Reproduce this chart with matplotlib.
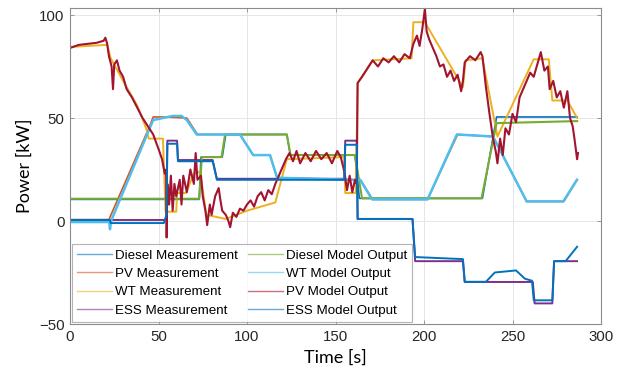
import matplotlib
matplotlib.use("Agg")
import matplotlib.pyplot as plt

# --- data (time [s], power [kW]) ---
t_diesel_meas = [0, 73, 74, 86, 88, 122.5, 124.5, 161, 163.5, 233, 241, 286.5]
p_diesel_meas = [10.5, 10.5, 31, 31, 42, 42, 32, 32, 11, 11, 50.5, 50.5]

t_pv_meas = [0, 22, 45, 47, 53, 66, 72, 96, 103.5, 113, 117, 162, 164, 171,
             202, 219, 239, 258, 279, 286.5]
p_pv_meas = [0.7, 0.7, 46, 50.5, 50.5, 50, 42, 42, 32, 32, 21, 20, 20, 10.5,
             10.5, 42, 41, 9.5, 9.5, 20]

t_wt_meas = [0, 21, 23, 30, 38, 43, 44.5, 52.5, 54, 60, 60.5, 65.5, 70, 73.5,
             77, 88, 100, 116, 122.5, 155, 155.5, 161.5, 162.5, 171, 193, 194,
             200.5, 222, 223.5, 233, 241.5, 262, 270.5, 272.5, 281, 286.5]
p_wt_meas = [84.5, 85.5, 79, 68, 56, 45, 40, 40, 4.5, 4.5, 13.6, 13.6, 23, 24,
             3, 1, 5, 9, 30, 31, 13.6, 13.6, 67, 78, 79, 96.5,
             96.5, 65, 78, 79, 41, 78.5, 78.5, 58.5, 58.5, 50]

t_ess_meas = [0, 54.5, 55, 60.5, 61, 80.6, 83, 155, 155.5, 162, 162.5, 193.5,
              195, 222, 223, 261.5, 262.5, 272.5, 273.5, 286.5]
p_ess_meas = [0.5, 0.5, 39, 39, 29.6, 29.6, 20.5, 20.5, 39, 39, 1, 1,
              -19.5, -19.5, -29.6, -29.6, -40, -40, -19.5, -19.5]

t_diesel_model = [0, 73, 74.5, 85.6, 87.6, 122.5, 124.6, 161, 165, 232.5, 241, 286.5]
p_diesel_model = [10.8, 10.8, 31, 31, 42, 42, 32, 32, 11, 11, 47.5, 48.5]

t_wt_model = [0, 22.2, 22.6, 23.2, 45, 47, 58, 63, 66, 71.6, 96, 103.5, 113, 117,
              160, 164, 170.6, 202, 218.6, 239, 258, 278.7, 286.4]
p_wt_model = [-0.5, -0.5, -4, 0, 45, 49, 51, 51, 49, 42, 42, 32, 32, 21,
              20, 20, 10.5, 10.5, 42, 41, 9.5, 9.5, 20]

t_pv_model = [0, 5, 10, 15, 19, 20, 21, 22, 23.5, 24.3, 25, 26.5, 28, 30, 32, 35,
              38, 41, 44, 47, 50, 52, 53.5, 54.3, 54.6, 55, 56, 57, 58, 59, 60,
              62, 63, 64, 66, 68, 70, 71, 72, 74, 75, 76.5, 77.5, 79, 80, 82,
              84, 85, 86, 88, 89.5, 90.5, 92, 94, 96, 98, 100, 102, 104, 106,
              108, 110, 112, 114, 116, 118, 120, 122, 124, 126, 128, 130, 133,
              136, 139, 142, 145, 148, 151, 153, 155, 156.5, 158, 159.5, 161,
              162, 162.5, 165, 168, 171, 174, 177, 180, 183, 186, 189, 192,
              194, 196, 197.5, 199, 200.5, 201.5, 203, 205, 207, 209, 211,
              213, 215, 217, 219, 221, 222, 223, 226, 229, 232, 233, 235, 237,
              239, 240.5, 241.5, 243, 244.5, 246, 248, 250, 252, 254, 256,
              258, 260, 262, 264, 266, 268, 270, 271, 273, 275, 277, 279, 281,
              282.5, 284, 285, 286.5, 287]
p_pv_model = [84, 85.5, 86, 86.5, 87.5, 89, 86, 80, 75, 64, 76, 78, 73, 70, 64, 60,
              55, 50, 46, 42, 35, 30, 23, 25, -8, 18, 8, 22, 5, 18, 12,
              20, 8, 22, 14, 25, 18, 33, 20, 22, 12, 5, -2, 8, 3, 12,
              16, 10, 5, 3, 0, -3, 4, 2, 6, 5, 8, 10, 7, 12,
              14, 10, 15, 13, 18, 22, 26, 30, 33, 29, 34, 28, 33,
              29, 34, 30, 33, 28, 34, 31, 24, 15, 22, 14, 20,
              18, 67, 70, 74, 78, 75, 79, 77, 80, 77, 81, 79,
              86, 90, 85, 93, 103, 92, 88, 84, 80, 75, 76,
              70, 73, 68, 71, 63, 68, 77, 80, 78, 82, 80, 65, 52,
              40, 34, 28, 40, 32, 45, 42, 52, 48, 60, 64,
              68, 72, 70, 76, 82, 73, 75, 64, 68, 60, 63, 55, 63,
              50, 46, 40, 30, 33]

t_ess_model = [0, 22.5, 23, 53, 54.5, 55, 60.5, 61, 80.6, 83, 155, 155.5, 162,
               162.5, 193.5, 195, 222, 223, 235, 240, 252, 257, 261, 262, 272.5,
               273.5, 280, 286.5]
p_ess_model = [0.5, 0.5, -1, -1, 3, 37.5, 37.5, 29, 29, 20, 20, 37, 37,
               1, 1, -17.5, -18.5, -29.5, -29.5, -25, -24, -28, -29, -38.5, -38.5,
               -19.5, -19.5, -12.5]

fig = plt.figure(figsize=(6.28, 3.75), dpi=100)
ax = fig.add_axes([70 / 628, 1 - 324 / 375, 531 / 628, 316 / 375])

ax.plot(t_diesel_meas, p_diesel_meas, color="#0072BD", lw=1.2, label="Diesel Measurement")
ax.plot(t_pv_meas, p_pv_meas, color="#D95319", lw=1.2, label="PV Measurement")
ax.plot(t_wt_meas, p_wt_meas, color="#EDB120", lw=1.4, label="WT Measurement")
ax.plot(t_ess_meas, p_ess_meas, color="#7E2F8E", lw=1.4, label="ESS Measurement")
ax.plot(t_diesel_model, p_diesel_model, color="#77AC30", lw=1.5, label="Diesel Model Output")
ax.plot(t_wt_model, p_wt_model, color="#4DBEEE", lw=1.8, label="WT Model Output")
ax.plot(t_pv_model, p_pv_model, color="#A2142F", lw=1.5, label="PV Model Output")
ax.plot(t_ess_model, p_ess_model, color="#0072BD", lw=1.4, label="ESS Model Output")

ax.set_xlim(0, 300)
ax.set_ylim(-50, 103.4)
ax.set_xticks([0, 50, 100, 150, 200, 250, 300])
ax.set_yticks([-50, 0, 50, 100])
ax.grid(True, color="#e6e6e6", lw=0.7)
ax.set_axisbelow(True)
for s in ax.spines.values():
    s.set_color("#8c8c8c")
    s.set_linewidth(0.8)
ax.tick_params(direction="in", length=3, width=0.6, color="#8c8c8c",
               top=True, right=True, labelsize=10.8, labelcolor="#262626", pad=4)
for lab in ax.get_xticklabels() + ax.get_yticklabels():
    lab.set_family("Liberation Sans")

ax.set_xlabel("Time [s]", family="Lato", fontsize=13, labelpad=4)
ax.set_ylabel("Power [kW]", family="Lato", fontsize=13, labelpad=4)

leg = ax.legend(loc="lower left", ncol=2, prop={"family": "Liberation Sans", "size": 9.6},
                frameon=True, fancybox=False, borderaxespad=0.15, handlelength=2.6,
                handletextpad=0.2, columnspacing=0.8, labelspacing=0.45,
                borderpad=0.4)
leg.get_frame().set_edgecolor("#a0a0a0")
leg.get_frame().set_linewidth(0.8)
for line in leg.get_lines():
    line.set_linewidth(1.0)
    line.set_alpha(0.6)

fig.savefig("out.png", dpi=100)
